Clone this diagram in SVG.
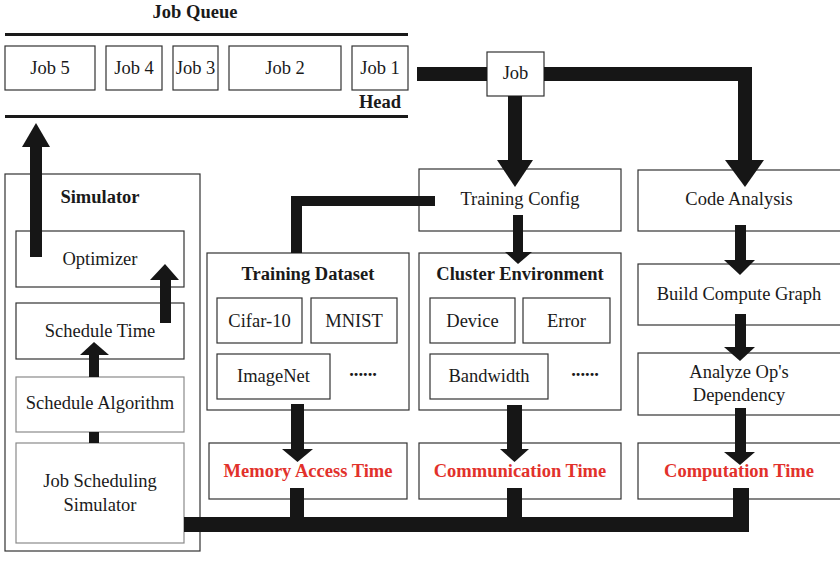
<svg xmlns="http://www.w3.org/2000/svg" width="840" height="565" viewBox="0 0 840 565">
  <style>
    .box { fill: #ffffff; stroke: #333333; stroke-width: 1.2; }
    .soft { fill: #ffffff; stroke: #8a8a8a; stroke-width: 1.2; }
    .frame { fill: none; stroke: #333333; stroke-width: 1.2; }
    .rule { stroke: #1a1a1a; stroke-width: 3.2; }
    .t { font-family: "Liberation Serif", "Times New Roman", serif; font-size: 18.5px; fill: #1a1a1a; text-anchor: middle; }
    .b { font-weight: bold; }
    .red { fill: #e2312b; font-weight: bold; }
    .wire { fill: #161616; }
  </style>

  <rect x="0" y="0" width="840" height="565" fill="#ffffff"/>

  <!-- job queue -->
  <g id="job-queue">
    <text class="t b" x="195" y="18">Job Queue</text>
    <line class="rule" x1="5" y1="34.5" x2="408" y2="34.5"/>
    <line class="rule" x1="5" y1="116.5" x2="408" y2="116.5"/>
    <text class="t b" x="380" y="108">Head</text>
  </g>
  <g id="job5"><rect class="box" x="5" y="46" width="90" height="44"/><text class="t" x="50" y="74">Job 5</text></g>
  <g id="job4"><rect class="box" x="106" y="46" width="56" height="44"/><text class="t" x="134" y="74">Job 4</text></g>
  <g id="job3"><rect class="box" x="173" y="46" width="45" height="44"/><text class="t" x="195.5" y="74">Job 3</text></g>
  <g id="job2"><rect class="box" x="229" y="46" width="112" height="44"/><text class="t" x="285" y="74">Job 2</text></g>
  <g id="job1"><rect class="box" x="352" y="46" width="56" height="44"/><text class="t" x="380" y="74">Job 1</text></g>

  <!-- simulator -->
  <g id="simulator">
    <rect class="frame" x="5" y="174" width="195" height="377"/>
    <text class="t b" x="100" y="203">Simulator</text>
  </g>
  <g id="optimizer"><rect class="box" x="16" y="231" width="168" height="56"/><text class="t" x="100" y="265">Optimizer</text></g>
  <g id="schedule-time"><rect class="box" x="16" y="303" width="168" height="56"/><text class="t" x="100" y="337">Schedule Time</text></g>
  <g id="schedule-algorithm"><rect class="soft" x="16" y="377" width="168" height="55"/><text class="t" x="100" y="409">Schedule Algorithm</text></g>
  <g id="job-scheduling-simulator"><rect class="soft" x="16" y="443" width="168" height="100"/><text class="t" x="100" y="487">Job Scheduling</text><text class="t" x="100" y="511">Simulator</text></g>

  <!-- job dispatch -->
  <g id="job"><rect class="box" x="487" y="52" width="57" height="44"/><text class="t" x="515.5" y="79">Job</text></g>

  <!-- training config branch -->
  <g id="training-config"><rect class="box" x="419" y="169" width="202" height="62"/><text class="t" x="520" y="205">Training Config</text></g>
  <g id="training-dataset">
    <rect class="box" x="207" y="253" width="202" height="157"/>
    <text class="t b" x="308" y="280">Training Dataset</text>
    <rect class="box" x="217" y="298" width="85" height="45"/><text class="t" x="259.5" y="327">Cifar-10</text>
    <rect class="box" x="311" y="298" width="86" height="45"/><text class="t" x="354" y="327">MNIST</text>
    <rect class="box" x="217" y="354" width="113" height="45"/><text class="t" x="273.5" y="382">ImageNet</text>
    <text class="t b" x="363" y="376">......</text>
  </g>
  <g id="cluster-environment">
    <rect class="box" x="419" y="253" width="202" height="157"/>
    <text class="t b" x="520" y="280">Cluster Environment</text>
    <rect class="box" x="430" y="298" width="85" height="45"/><text class="t" x="472.5" y="327">Device</text>
    <rect class="box" x="523" y="298" width="87" height="45"/><text class="t" x="566.5" y="327">Error</text>
    <rect class="box" x="430" y="354" width="118" height="45"/><text class="t" x="489" y="382">Bandwidth</text>
    <text class="t b" x="585" y="376">......</text>
  </g>
  <g id="memory-access-time"><rect class="box" x="209" y="443" width="198" height="56"/><text class="t red" x="308" y="477">Memory Access Time</text></g>
  <g id="communication-time"><rect class="box" x="419" y="443" width="202" height="56"/><text class="t red" x="520" y="477">Communication Time</text></g>

  <!-- code analysis branch -->
  <g id="code-analysis"><rect class="box" x="638" y="170" width="210" height="61"/><text class="t" x="739" y="205">Code Analysis</text></g>
  <g id="build-compute-graph"><rect class="box" x="638" y="264" width="210" height="61"/><text class="t" x="739" y="300">Build Compute Graph</text></g>
  <g id="analyze-dependency"><rect class="box" x="638" y="353" width="210" height="62"/><text class="t" x="739" y="378">Analyze Op's</text><text class="t" x="739" y="401">Dependency</text></g>
  <g id="computation-time"><rect class="box" x="638" y="443" width="210" height="56"/><text class="t red" x="739" y="477">Computation Time</text></g>

  <!-- connectors: thick bars with arrowheads -->
  <g id="connectors" class="wire">
    <!-- Job 1 to Job -->
    <rect x="417" y="67" width="70" height="14"/>
    <!-- Job to Training Config -->
    <rect x="508" y="96" width="14" height="65"/>
    <polygon points="497,160 533,160 515,187"/>
    <!-- Job to Code Analysis -->
    <path d="M544 67 H752 V161 H738 V81 H544 Z"/>
    <polygon points="725,160 764,160 745,187"/>
    <!-- Training Config to Training Dataset -->
    <path d="M435 196 V206 H302 V253 H291 V196 Z"/>
    <!-- Training Config to Cluster Environment -->
    <rect x="513" y="215" width="10" height="38"/>
    <polygon points="505,252 532,252 518,264"/>
    <!-- Code Analysis chain -->
    <rect x="735" y="225" width="11" height="36"/>
    <polygon points="724,260 755,260 740,275"/>
    <rect x="735" y="314" width="11" height="34"/>
    <polygon points="724,347 755,347 740,361"/>
    <rect x="735" y="408" width="11" height="45"/>
    <polygon points="724,452 755,452 740,465"/>
    <!-- Training Dataset to Memory Access Time -->
    <rect x="291" y="404" width="13" height="46"/>
    <polygon points="282,449 313,449 297.5,462"/>
    <!-- Cluster Environment to Communication Time -->
    <rect x="507" y="405" width="15" height="45"/>
    <polygon points="500,449 529,449 514.5,462"/>
    <!-- times back to the simulator -->
    <path d="M184 517 H290 V488 H304 V517 H507 V488 H522 V517 H733 V488 H749 V532 H184 Z"/>
    <!-- simulator internals -->
    <rect x="89" y="432" width="10" height="11"/>
    <rect x="89" y="354" width="10" height="23"/>
    <polygon points="80,355 109,355 94,342"/>
    <rect x="160" y="279" width="11" height="44"/>
    <polygon points="150,280 179,280 165,264"/>
    <!-- Optimizer back to the queue -->
    <rect x="30" y="146" width="12" height="111"/>
    <polygon points="22,147 50,147 36,123"/>
  </g>
</svg>
